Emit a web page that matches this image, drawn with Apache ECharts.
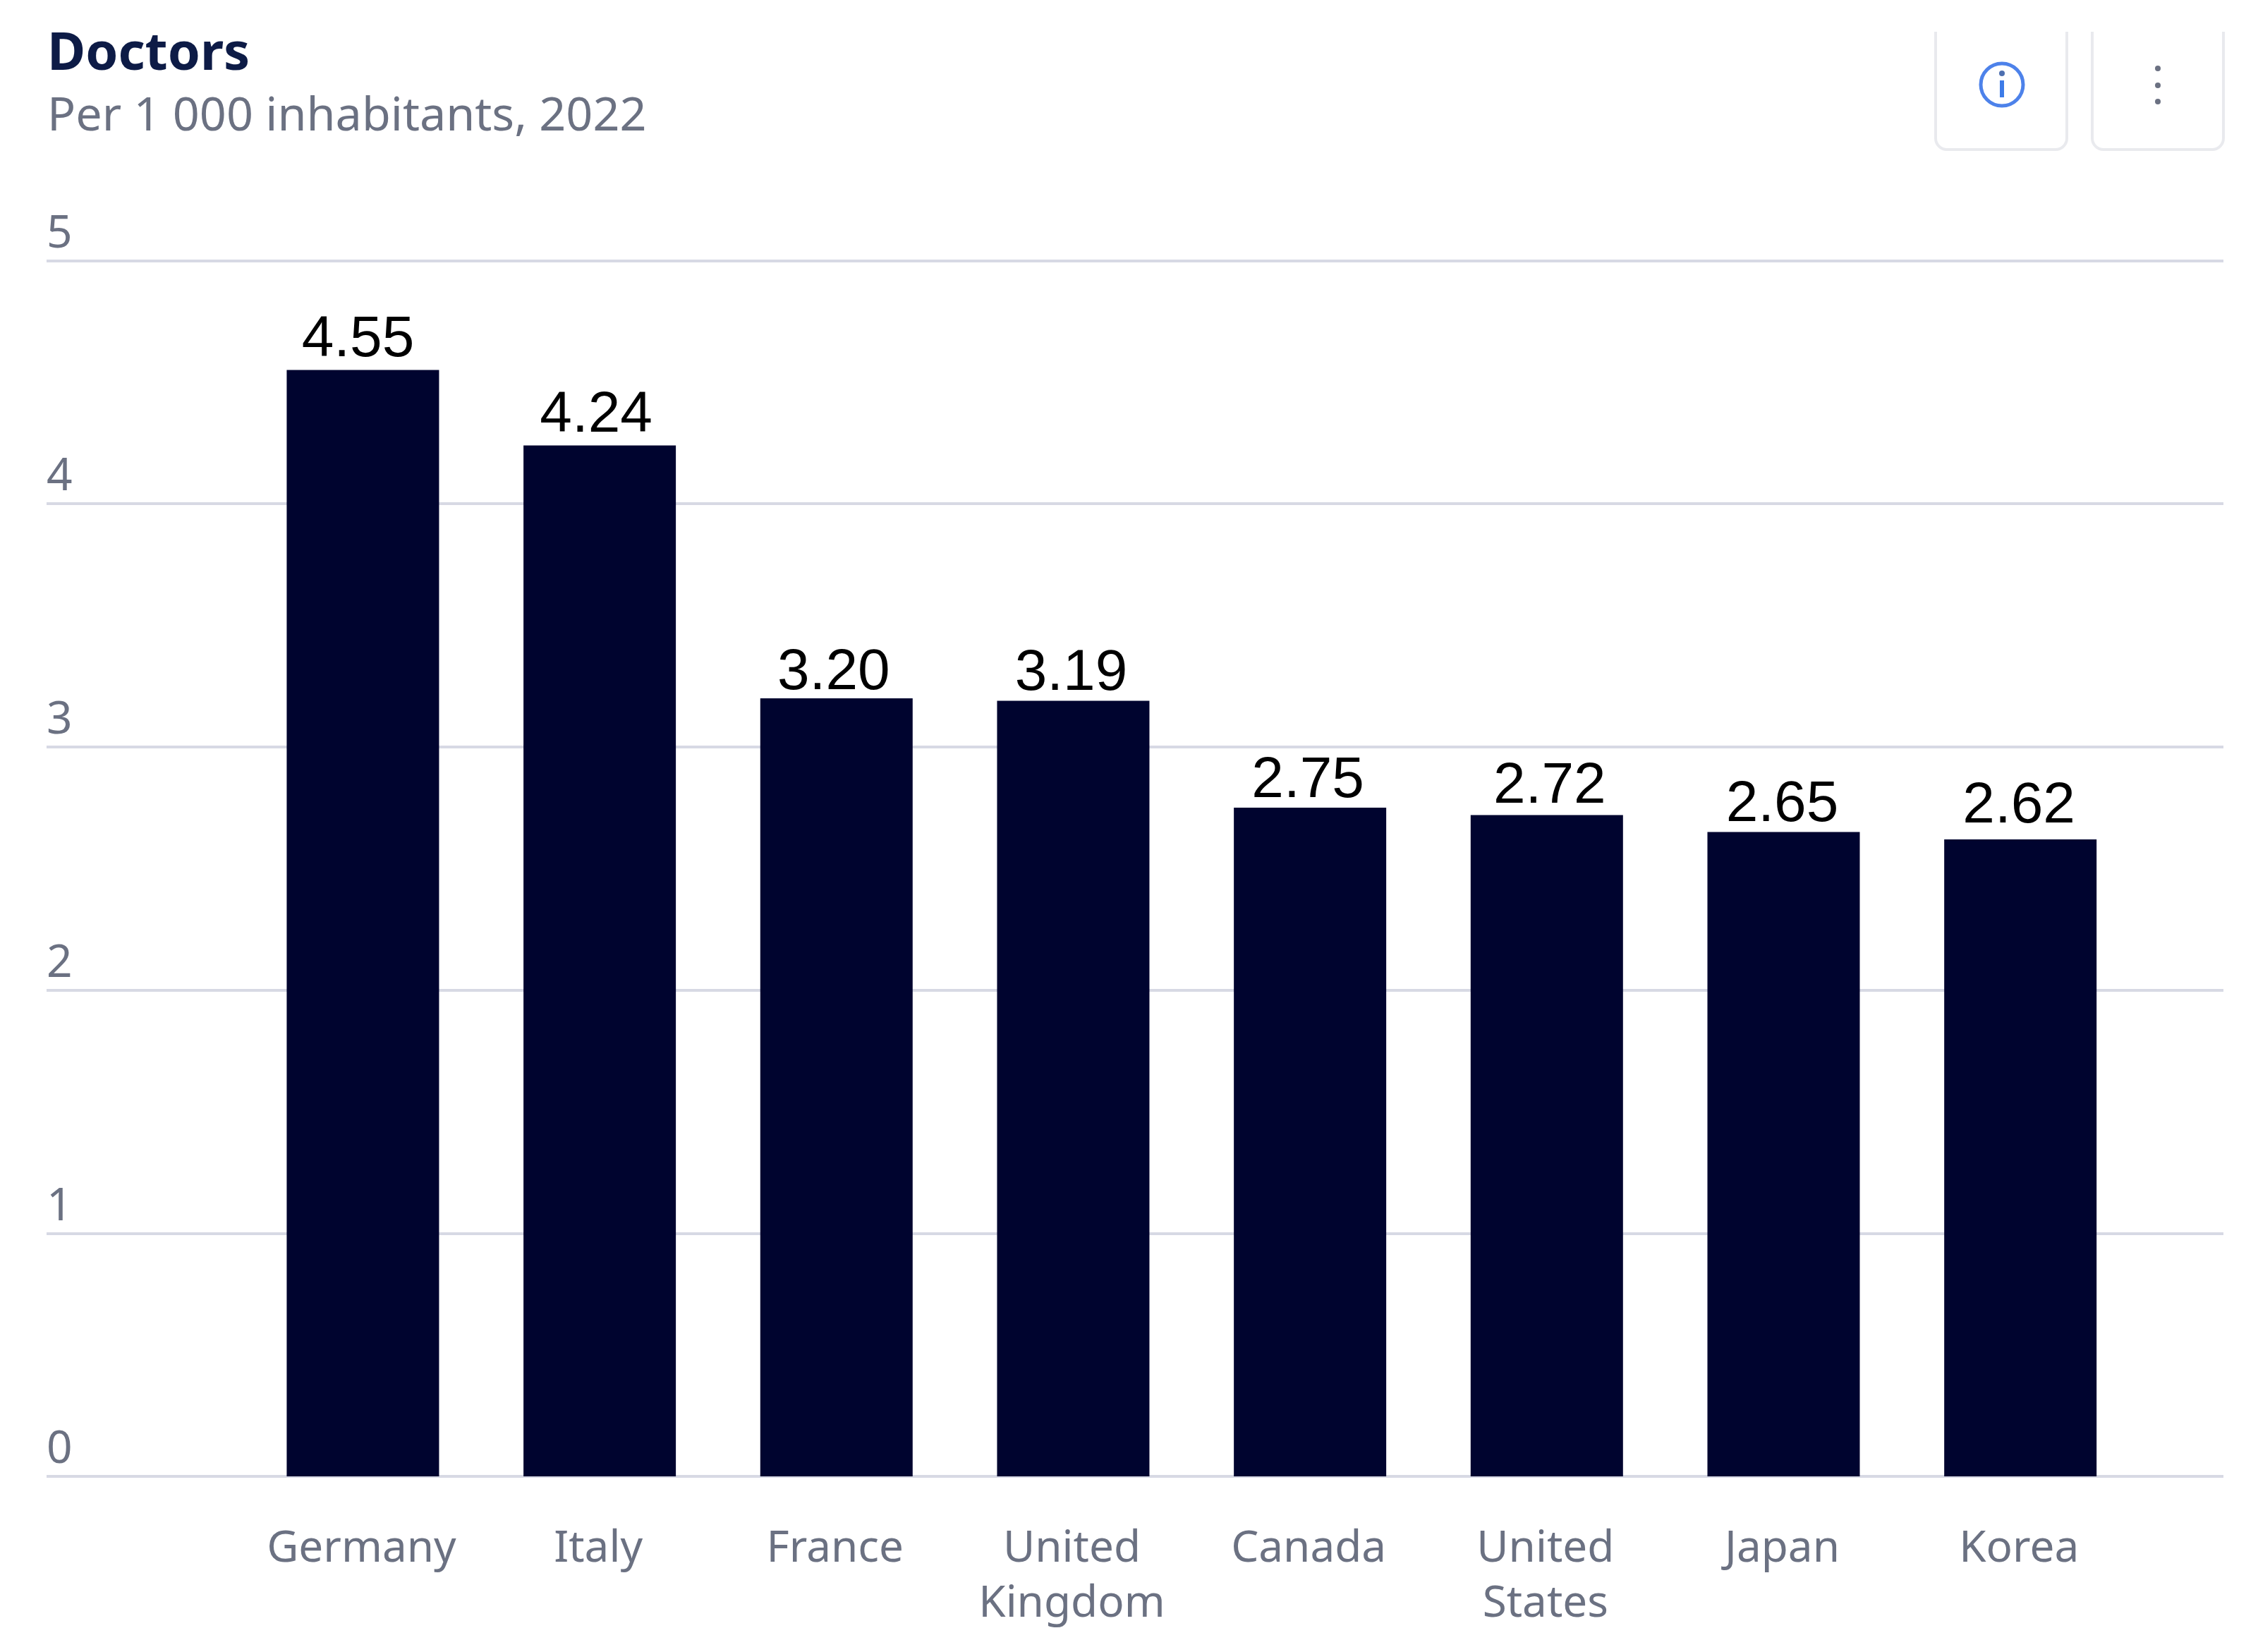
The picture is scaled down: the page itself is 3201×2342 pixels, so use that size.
<!DOCTYPE html>
<html><head><meta charset="utf-8">
<style>html,body{margin:0;padding:0;background:#fff}#c{width:3201px;height:2342px}</style>
<script src="https://cdn.jsdelivr.net/npm/echarts@6/dist/echarts.min.js"></script>
</head><body><div id="c"></div>
<script>
const categories = ['Germany','Italy','France','United\nKingdom','Canada','United\nStates','Japan','Korea'];
const doctors = [4.55,4.24,3.20,3.19,2.75,2.72,2.65,2.62];
const yMin = 0, yMax = 5, yStep = 1;
const labelNudgeX = [-7,-5,-4,-3,-3,4,-2,-2];
const labelNudgeY = [0,0,6,4,4,2,4,-4];

const chart = echarts.init(document.getElementById('c'),null,{renderer:'canvas',width:3201,height:2342,devicePixelRatio:1});
const grayText = '#6b7182', navy = '#00042f', gridColor = '#d7d9e4';
chart.setOption({
  animation:false,
  backgroundColor:'#fff',
  title:[
    {text:'Doctors',left:62,top:28,textStyle:{fontFamily:'Noto Sans',fontWeight:'bold',fontSize:74,color:'#0d1b46',lineHeight:90}},
    {text:'Per 1 000 inhabitants, 2022',left:62,top:119,textStyle:{fontFamily:'Noto Sans',fontWeight:'normal',fontSize:66.5,color:grayText,lineHeight:84}}
  ],
  grid:[
    {left:66,right:49,top:369.5,bottom:249},
    {left:346.6,right:169,top:369.5,bottom:249}
  ],
  xAxis:[
    {type:'category',gridIndex:0,show:false,data:categories},
    {type:'category',gridIndex:1,data:categories,
      axisLine:{show:false},axisTick:{show:false},
      axisLabel:{interval:0,margin:64,padding:[0,4,0,0],fontFamily:'Noto Sans',fontSize:62,lineHeight:78,color:grayText}}
  ],
  yAxis:[
    {type:'value',gridIndex:0,min:yMin,max:yMax,interval:yStep,
      axisLine:{show:false},axisTick:{show:false},
      splitLine:{show:true,lineStyle:{color:gridColor,width:4}},
      axisLabel:{inside:true,margin:0,align:'left',verticalAlign:'bottom',fontFamily:'Noto Sans',fontSize:64,lineHeight:74,color:grayText}},
    {type:'value',gridIndex:1,min:yMin,max:yMax,interval:yStep,show:false}
  ],
  series:[{
    type:'bar',xAxisIndex:1,yAxisIndex:1,barWidth:216,
    itemStyle:{color:navy},
    label:{show:true,position:'top',distance:1,fontFamily:'Liberation Sans',fontSize:82,color:'#000',formatter:p=>p.value.toFixed(2)},
    data:doctors.map((v,i)=>({value:v,label:{offset:[labelNudgeX[i],labelNudgeY[i]]}}))
  }],
  graphic:[
    {type:'rect',z:100,shape:{x:2744,y:-20,width:186,height:232,r:16},style:{fill:'#fff',stroke:'#e9eaee',lineWidth:4}},
    {type:'rect',z:100,shape:{x:2966,y:-20,width:186,height:232,r:16},style:{fill:'#fff',stroke:'#e9eaee',lineWidth:4}},
    {type:'rect',z:101,shape:{x:0,y:0,width:3201,height:45},style:{fill:'#fff'}},
    {type:'circle',z:102,shape:{cx:2838,cy:120,r:30},style:{fill:'none',stroke:'#4d82ea',lineWidth:5}},
    {type:'circle',z:102,shape:{cx:2838,cy:104,r:4},style:{fill:'#4d6fb0'}},
    {type:'rect',z:102,shape:{x:2835,y:114,width:6,height:24},style:{fill:'#3d7be8'}},
    {type:'circle',z:102,shape:{cx:3059,cy:97,r:4},style:{fill:'#6b7182'}},
    {type:'circle',z:102,shape:{cx:3059,cy:121,r:4},style:{fill:'#6b7182'}},
    {type:'circle',z:102,shape:{cx:3059,cy:144,r:4},style:{fill:'#6b7182'}}
  ]
});
</script></body></html>
